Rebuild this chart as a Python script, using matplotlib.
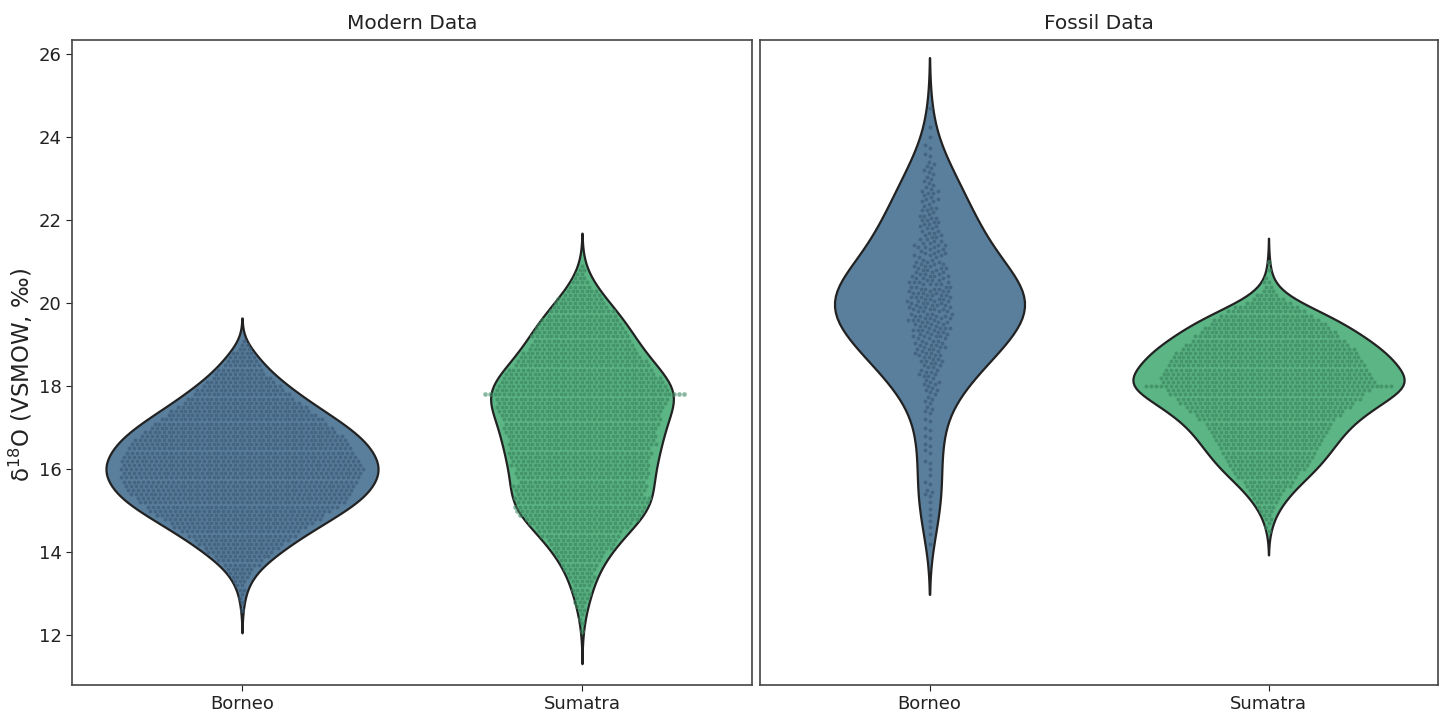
import numpy as np
import pandas as pd
import matplotlib
matplotlib.use("Agg")
import matplotlib.pyplot as plt
import seaborn as sns

# ---------------- data (counts per value on a regular permil grid) ----------------
sites = ["Borneo", "Sumatra"]
panel_titles = ["Modern Data", "Fossil Data"]
yticks = [12, 14, 16, 18, 20, 22, 24, 26]

modern_borneo_start, modern_borneo_step = 12.6, 0.1
modern_borneo_counts = [1, 0, 1, 1, 1, 2, 2, 3, 4, 5,
                        6, 8, 10, 12, 14, 16, 18, 20, 23, 25,
                        28, 30, 33, 35, 38, 40, 43, 44, 46, 47,
                        48, 49, 50, 50, 51, 50, 50, 49, 48, 47,
                        46, 45, 43, 41, 39, 37, 35, 32, 30, 28,
                        25, 23, 21, 19, 17, 15, 13, 11, 10, 8,
                        7, 6, 5, 3, 2, 1]

modern_sumatra_start, modern_sumatra_step = 12.1, 0.1
modern_sumatra_counts = [1, 0, 1, 1, 1, 2, 2, 3, 3, 4,
                         4, 4, 5, 6, 6, 7, 8, 9, 10, 11,
                         13, 14, 15, 17, 18, 20, 22, 24, 26, 27,
                         28, 28, 29, 27, 28, 29, 27, 28, 29, 28,
                         30, 29, 30, 31, 30, 32, 31, 32, 32, 33,
                         33, 34, 34, 35, 36, 36, 37, 43, 37, 36,
                         35, 34, 32, 31, 29, 28, 26, 25, 23, 22,
                         21, 21, 20, 19, 18, 17, 15, 14, 12, 11,
                         10, 8, 7, 5, 4, 3, 2, 2, 1]

fossil_borneo_start, fossil_borneo_step = 14.2, 0.05
fossil_borneo_counts = [1, 0, 0, 0, 0, 1, 0, 0, 1, 0, 0, 1, 0, 0, 1, 0,   # 14.2-14.95
                        0, 1, 0, 0, 1, 0, 0, 1, 1, 1, 1, 0, 0, 1, 1, 0,   # 15.0-15.75
                        0, 1, 0, 0, 1, 0, 0, 1, 1, 0, 0, 0, 1, 1, 0, 1,   # 15.8-16.55
                        1, 0, 0, 1, 1, 0, 0, 1, 1, 0, 0, 1, 1, 0, 0, 1,   # 16.6-17.35
                        1, 1, 1, 0, 1, 1, 1, 1, 1, 1, 2, 1, 1, 2, 2, 1,   # 17.4-18.15
                        1, 2, 2, 2, 2, 2, 2, 2, 3, 2, 2, 3, 3, 2, 3, 3,   # 18.2-18.95
                        3, 3, 3, 3, 4, 3, 3, 4, 4, 3, 3, 4, 4, 4, 4, 4,   # 19.0-19.75
                        4, 4, 4, 4, 4, 4, 4, 4, 4, 4, 4, 4, 4, 4, 4, 3,   # 19.8-20.55
                        3, 4, 3, 3, 3, 3, 3, 3, 3, 2, 2, 3, 3, 2, 2, 3,   # 20.6-21.35
                        3, 2, 2, 2, 2, 2, 2, 2, 2, 2, 2, 2, 2, 2, 2, 1,   # 21.4-22.15
                        1, 2, 2, 1, 1, 2, 2, 1, 1, 2, 2, 1, 1, 1, 1, 1,   # 22.2-22.95
                        1, 1, 1, 1, 1, 1, 1, 1, 1, 0, 0, 1, 1, 0, 0, 1,   # 23.0-23.75
                        1, 0, 0, 0, 1, 0, 0, 0, 0, 1, 0, 0, 0, 0, 0, 0,   # 23.8-24.55
                        0, 0, 1, 0]                                       # 24.6-24.75

fossil_sumatra_start, fossil_sumatra_step = 14.5, 0.1
fossil_sumatra_counts = [1, 1, 1, 2, 2, 3, 4, 5, 6, 7,
                         8, 10, 11, 13, 14, 16, 17, 18, 19, 20,
                         21, 22, 23, 24, 25, 26, 27, 29, 31, 33,
                         35, 37, 39, 41, 43, 52, 45, 45, 44, 43,
                         42, 41, 40, 39, 37, 35, 33, 31, 29, 27,
                         25, 23, 20, 17, 14, 10, 7, 5, 3, 2,
                         2, 1, 0, 1, 0, 1]

fill_colors = {"Borneo": "#5a7f9d", "Sumatra": "#5bb585"}
dot_colors = {"Borneo": "#34536d", "Sumatra": "#347a56"}


def expand(start, step, counts):
    vals = []
    for i, c in enumerate(counts):
        vals += [round(start + i * step, 2)] * c
    return vals


def frame(borneo, sumatra):
    b = expand(*borneo)
    s = expand(*sumatra)
    return pd.DataFrame({"site": ["Borneo"] * len(b) + ["Sumatra"] * len(s),
                         "d18O": b + s})


panels = [frame((modern_borneo_start, modern_borneo_step, modern_borneo_counts),
                (modern_sumatra_start, modern_sumatra_step, modern_sumatra_counts)),
          frame((fossil_borneo_start, fossil_borneo_step, fossil_borneo_counts),
                (fossil_sumatra_start, fossil_sumatra_step, fossil_sumatra_counts))]

# ---------------- figure ----------------
plt.rcParams["font.family"] = ["DejaVu Sans"]
fig = plt.figure(figsize=(14.47, 7.16), dpi=100)
ax1 = fig.add_axes([72 / 1447, 1 - 685 / 716, 680 / 1447, 645 / 716])
ax2 = fig.add_axes([760 / 1447, 1 - 685 / 716, 678 / 1447, 645 / 716], sharey=ax1)

for ax, df, title in zip([ax1, ax2], panels, panel_titles):
    sns.violinplot(data=df, x="site", y="d18O", hue="site", order=sites,
                   hue_order=sites, palette=fill_colors, inner=None,
                   saturation=1, linecolor="#222222", linewidth=1.6,
                   common_norm=True, legend=False, ax=ax)
    for site in sites:
        sub = df[df["site"] == site]
        sns.swarmplot(data=sub, x="site", y="d18O", order=sites,
                      color=dot_colors[site], size=3, alpha=0.55,
                      linewidth=0.4, edgecolor=fill_colors[site], ax=ax)
    ax.set_title(title, fontsize=14.5, color="#222222", pad=8)
    ax.set_xlabel("")
    ax.set_xlim(-0.5, 1.5)
    for sp in ax.spines.values():
        sp.set_color("#444444")
        sp.set_linewidth(1.2)
    ax.tick_params(axis="both", labelsize=13, colors="#222222", length=4)

ax1.set_ylim(10.8, 26.34)
ax1.set_yticks(yticks)
ax1.set_ylabel("δ$^{18}$O (VSMOW, ‰)", fontsize=16.5, color="#222222")
ax1.yaxis.set_label_coords(-0.054, 0.48)
ax2.set_ylabel("")
ax2.tick_params(axis="y", left=False, labelleft=False)

fig.savefig("out.png", dpi=100)
